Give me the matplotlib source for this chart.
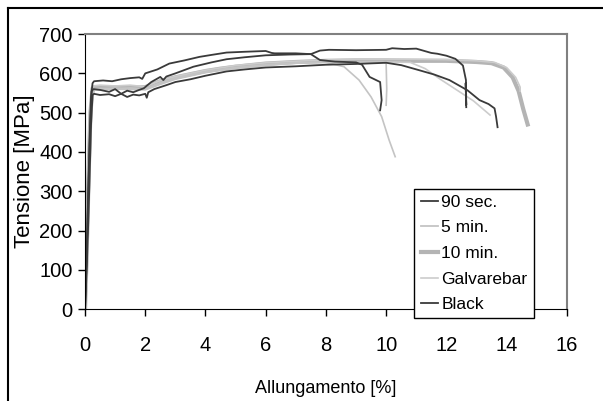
import matplotlib.pyplot as plt
from matplotlib.lines import Line2D

# strain [%] / stress [MPa], one pair per specimen
sec90_x = [0, 0.05, 0.1, 0.15, 0.2, 0.25, 0.3, 0.6, 0.9, 1.2, 1.5, 1.8, 1.9, 2.0, 2.4, 2.8,
           3.3, 3.8, 4.2, 4.7, 5.3, 6.0, 6.2, 6.3, 7.0, 7.5, 7.8, 8.3, 9.0, 9.2, 9.45, 9.8, 9.85, 9.8]
sec90_y = [0, 120, 280, 430, 540, 575, 580, 582, 580, 585, 588, 590, 586, 600, 610, 625,
           633, 642, 647, 653, 655, 657, 652, 651, 651, 649, 634, 630, 628, 622, 591, 578, 532, 506]

black_x = [0, 0.05, 0.12, 0.2, 0.25, 0.3, 0.5, 0.8, 1.0, 1.2, 1.4, 1.6, 1.8, 2.0, 2.05, 2.1,
           2.3, 2.7, 3.0, 3.5, 4.0, 4.7, 5.3, 6.0, 7.0, 8.0, 9.0, 10.0, 10.5, 11.1, 11.6, 12.1,
           12.7, 13.1, 13.4, 13.6, 13.65, 13.7]
black_y = [0, 90, 250, 470, 545, 548, 545, 547, 542, 548, 540, 546, 544, 548, 538, 552,
           560, 570, 578, 585, 594, 605, 610, 615, 618, 622, 624, 627, 621, 608, 597, 583,
           557, 532, 522, 511, 490, 463]

black2_x = [0, 0.06, 0.12, 0.18, 0.22, 0.28, 0.5, 0.8, 1.0, 1.2, 1.4, 1.6, 1.8, 1.95, 2.2,
            2.5, 2.6, 2.7, 3.0, 3.6, 4.2, 4.7, 5.3, 6.0, 6.8, 7.5, 7.8, 8.1, 9.0, 10.0, 10.2,
            10.6, 11.0, 11.5, 11.7, 12.0, 12.3, 12.55, 12.65, 12.66, 12.64, 12.66]
black2_y = [0, 150, 330, 480, 555, 560, 558, 553, 560, 548, 556, 552, 558, 562, 578,
            591, 583, 592, 600, 617, 628, 636, 641, 646, 648, 649, 658, 660, 659, 660, 664,
            662, 663, 652, 650, 645, 637, 620, 583, 520, 575, 514]

min10_x = [0, 0.05, 0.1, 0.18, 0.25, 0.5, 1.0, 1.5, 2.0, 2.5, 3.0, 3.5, 4.0, 4.5, 5.0, 6.0,
           7.0, 8.0, 9.0, 10.0, 11.0, 12.0, 13.0, 13.5, 13.9, 14.2, 14.4, 14.55, 14.7]
min10_y = [0, 130, 300, 500, 562, 565, 565, 563, 565, 580, 590, 598, 606, 612, 617, 625,
           629, 632, 633, 633, 632, 632, 629, 626, 615, 590, 555, 510, 470]

galva_x = [0, 0.04, 0.1, 0.2, 0.25, 0.5, 1.0, 1.5, 2.0, 2.5, 3.0, 4.0, 5.0, 6.0, 7.0, 8.0,
           9.0, 10.0, 11.0, 12.0, 13.0, 13.6, 14.0, 14.3, 14.45, 14.45]
galva_y = [0, 40, 200, 480, 568, 570, 568, 570, 566, 582, 592, 608, 620, 627, 631, 634,
           636, 636, 636, 635, 632, 628, 615, 590, 565, 555]

galva2_x = [0, 0.08, 0.16, 0.24, 0.3, 1.0, 2.0, 2.5, 3.0, 4.0, 5.0, 6.0, 7.0, 8.0, 9.0,
            10.0, 10.8, 11.3, 11.8, 12.4, 12.9, 13.45]
galva2_y = [0, 150, 380, 545, 560, 562, 560, 575, 588, 603, 614, 621, 626, 628, 629,
            629, 628, 612, 585, 555, 530, 494]

min5_x = [0, 0.05, 0.12, 0.2, 0.26, 0.5, 1, 1.5, 2, 2.5, 3, 4, 5, 6, 7, 8, 8.6, 9.1, 9.5,
          9.85, 10.1, 10.3]
min5_y = [0, 100, 280, 500, 560, 562, 560, 563, 560, 576, 588, 604, 615, 622, 627, 628,
          617, 583, 540, 490, 430, 388]

min5b_x = [0, 0.06, 0.15, 0.22, 0.3, 1, 2, 2.5, 3, 4, 5, 6, 7, 8, 9, 9.9, 10.0, 10.02, 10.0]
min5b_y = [0, 60, 300, 520, 558, 560, 558, 572, 585, 602, 613, 620, 626, 629, 630, 630,
           625, 560, 519]

xticks = [0, 2, 4, 6, 8, 10, 12, 14, 16]
yticks = [0, 100, 200, 300, 400, 500, 600, 700]

dark = '#3a3a3a'
light = '#c4c4c4'
mid = '#b4b4b4'

plt.rcParams['font.family'] = ['Liberation Sans', 'DejaVu Sans']

fig = plt.figure(figsize=(6.03, 4.01), dpi=100)
ax = fig.add_axes([0.141, 0.229, 0.799, 0.686])

# grey curves first, dark ones on top
ax.plot(min10_x, min10_y, color=mid, lw=3)
ax.plot(galva_x, galva_y, color='#cccccc', lw=1.2)
ax.plot(galva2_x, galva2_y, color='#cccccc', lw=1.2)
ax.plot(min5_x, min5_y, color=light, lw=1.2)
ax.plot(min5b_x, min5b_y, color=light, lw=1.2)
ax.plot(sec90_x, sec90_y, color=dark, lw=1.3)
ax.plot(black_x, black_y, color=dark, lw=1.3)
ax.plot(black2_x, black2_y, color=dark, lw=1.3)

ax.set_xlim(0, 16)
ax.set_ylim(0, 700)
ax.set_xticks(xticks)
ax.set_yticks(yticks)
ax.tick_params(labelsize=14.5, direction='out', length=5, width=1)
ax.tick_params(axis='x', pad=14)
ax.tick_params(axis='y', pad=4)
ax.spines['top'].set_color('#808080')
ax.spines['right'].set_color('#808080')
ax.spines['top'].set_linewidth(1.5)
ax.spines['right'].set_linewidth(1.5)

ax.set_ylabel('Tensione [MPa]', fontsize=16, labelpad=3)
ax.set_xlabel('Allungamento [%]', fontsize=13, labelpad=18)

handles = [Line2D([], [], color=dark, lw=1.3),
           Line2D([], [], color=light, lw=1.3),
           Line2D([], [], color=mid, lw=3),
           Line2D([], [], color='#cccccc', lw=1.2),
           Line2D([], [], color=dark, lw=1.3)]
labels = ['90 sec.', '5 min.', '10 min.', 'Galvarebar', 'Black']
leg = ax.legend(handles, labels, loc='lower right', bbox_to_anchor=(0.931, -0.033),
                borderaxespad=0, fancybox=False, framealpha=1, edgecolor='black',
                handlelength=1.0, handletextpad=0.2, labelspacing=0.6, borderpad=0.35,
                fontsize=12.5)
leg.get_frame().set_linewidth(1)
leg.set_zorder(5)

# outer chart border (left and top visible)
fig.add_artist(Line2D([8 / 603, 8 / 603], [0, 1 - 8 / 401], color='black', lw=1.5))
fig.add_artist(Line2D([8 / 603, 1], [1 - 8 / 401, 1 - 8 / 401], color='black', lw=1.5))

fig.savefig('out.png', dpi=100)
